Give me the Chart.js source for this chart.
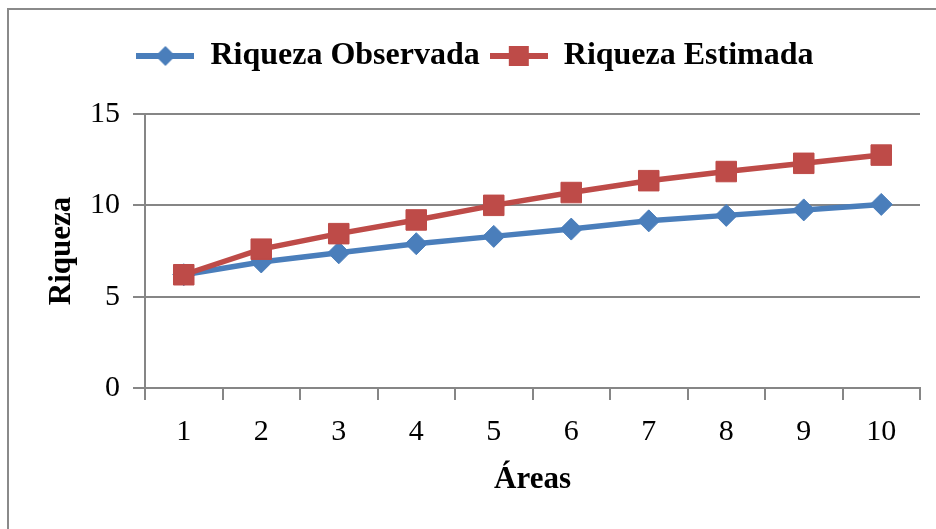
<!DOCTYPE html>
<html>
<head>
<meta charset="utf-8">
<title>Riqueza</title>
<script src="https://cdn.jsdelivr.net/npm/chart.js@4.4.0/dist/chart.umd.min.js"></script>
<style>
  html, body { margin: 0; padding: 0; background: #fff; }
  #wrap { position: relative; width: 936px; height: 529px; overflow: hidden; }
  #frame { position: absolute; left: 7px; top: 8px; width: 960px; height: 560px; border: 2px solid #8a8a8a; }
  canvas { position: absolute; left: 0; top: 0; }
</style>
</head>
<body>
<div id="wrap">
  <div id="frame"></div>
  <canvas id="riquezaChart" width="936" height="529"></canvas>
</div>
<script>
var areas = ["1", "2", "3", "4", "5", "6", "7", "8", "9", "10"];
var riquezaObservada = [6.2, 6.9, 7.4, 7.9, 8.3, 8.7, 9.15, 9.45, 9.75, 10.05];
var riquezaEstimada = [6.2, 7.6, 8.45, 9.2, 10.0, 10.7, 11.35, 11.85, 12.3, 12.75];
var yTicks = [0, 5, 10, 15];

var azul = "#4a7ebb";
var rojo = "#be4b48";
var gris = "#868686";
var serif = "'Liberation Serif', 'Times New Roman', serif";

// small line+marker icons for the legend
function legendIcon(color, shape) {
  var c = document.createElement("canvas");
  c.width = 58;
  c.height = 24;
  var g = c.getContext("2d");
  g.strokeStyle = color;
  g.lineWidth = 6;
  g.beginPath();
  g.moveTo(0, 12);
  g.lineTo(58, 12);
  g.stroke();
  g.fillStyle = color;
  g.beginPath();
  if (shape === "diamond") {
    g.moveTo(29, 2);
    g.lineTo(39, 12);
    g.lineTo(29, 22);
    g.lineTo(19, 12);
    g.closePath();
  } else {
    g.rect(19, 2, 20, 20);
  }
  g.fill();
  return c;
}
var iconos = [legendIcon(azul, "diamond"), legendIcon(rojo, "square")];

// push the plot area down below the legend
var legendGap = {
  id: "legendGap",
  beforeInit: function (chart) {
    var fit = chart.legend.fit;
    chart.legend.fit = function () {
      fit.bind(chart.legend)();
      this.height += 32;
    };
  },
};

var ctx = document.getElementById("riquezaChart").getContext("2d");
var myChart = new Chart(ctx, {
  type: "line",
  data: {
    labels: areas,
    datasets: [
      {
        label: "Riqueza Observada",
        data: riquezaObservada,
        borderColor: azul,
        backgroundColor: azul,
        borderWidth: 5.5,
        pointStyle: "rectRot",
        pointRadius: 11,
        pointBorderWidth: 1,
        pointBackgroundColor: azul,
        pointBorderColor: azul,
        tension: 0,
        order: 2,
      },
      {
        label: "Riqueza Estimada",
        data: riquezaEstimada,
        borderColor: rojo,
        backgroundColor: rojo,
        borderWidth: 5.5,
        pointStyle: "rect",
        pointRadius: 14.5,
        pointBorderWidth: 1,
        pointBackgroundColor: rojo,
        pointBorderColor: rojo,
        tension: 0,
        order: 1,
      },
    ],
  },
  plugins: [legendGap],
  options: {
    responsive: false,
    animation: false,
    layout: {
      padding: { left: 30, right: 16, top: 30, bottom: 10 },
    },
    plugins: {
      tooltip: { enabled: false },
      legend: {
        position: "top",
        labels: {
          usePointStyle: true,
          pointStyleWidth: 58,
          padding: 10,
          color: "#000",
          font: { family: serif, size: 32, weight: "bold" },
          sort: function (a, b) {
            return a.datasetIndex - b.datasetIndex;
          },
          generateLabels: function (chart) {
            var items = Chart.defaults.plugins.legend.labels.generateLabels(chart);
            items.forEach(function (it) {
              it.pointStyle = iconos[it.datasetIndex];
            });
            return items;
          },
        },
      },
    },
    scales: {
      x: {
        type: "category",
        offset: true,
        afterFit: function (scale) {
          scale.height = 131;
        },
        grid: {
          offset: true,
          drawOnChartArea: false,
          color: gris,
          lineWidth: 2,
          tickLength: 12,
        },
        border: { color: gris, width: 2 },
        ticks: {
          color: "#000",
          padding: 14,
          font: { family: serif, size: 30 },
        },
        title: {
          display: true,
          text: "Áreas",
          color: "#000",
          padding: { top: 0, bottom: 20 },
          font: { family: serif, size: 31, weight: "bold" },
        },
      },
      y: {
        min: 0,
        max: 15,
        afterFit: function (scale) {
          scale.width = 115;
        },
        afterBuildTicks: function (scale) {
          scale.ticks = yTicks.map(function (v) {
            return { value: v };
          });
        },
        grid: {
          color: gris,
          lineWidth: 2,
          tickLength: 12,
        },
        border: { color: gris, width: 2 },
        ticks: {
          color: "#000",
          padding: 13,
          font: { family: serif, size: 30 },
        },
        title: {
          display: true,
          text: "Riqueza",
          color: "#000",
          padding: { top: 13, bottom: 0 },
          font: { family: serif, size: 31, weight: "bold" },
        },
      },
    },
  },
});
</script>
</body>
</html>
